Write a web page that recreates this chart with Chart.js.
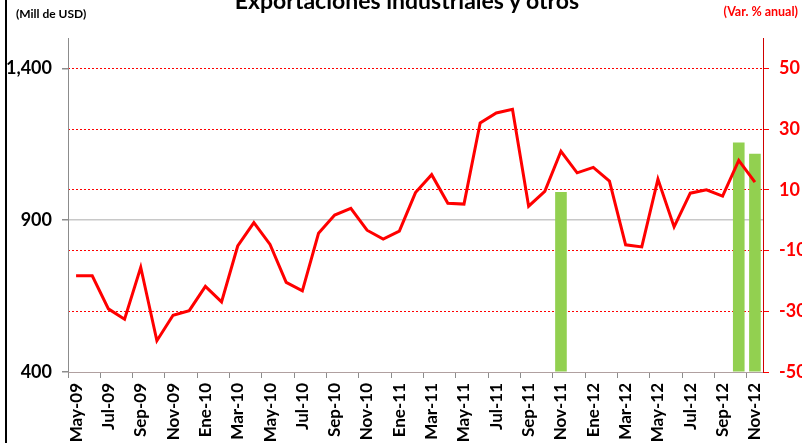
<!DOCTYPE html>
<html>
<head>
<meta charset="utf-8">
<script src="https://cdn.jsdelivr.net/npm/chart.js@4.4.1/dist/chart.umd.min.js"></script>
<style>
  html, body { margin: 0; padding: 0; background: #ffffff; }
  #wrap { position: relative; width: 802px; height: 443px; overflow: hidden; background: #ffffff; }
  canvas { position: absolute; left: 0; top: 0; }
  .txt { position: absolute; font-family: Lato, "Open Sans", sans-serif; font-weight: bold; white-space: nowrap; }
  #title { left: 0; width: 814px; text-align: center; top: -11px; font-size: 23px; line-height: 23px; color: #000; }
  #unitL { left: 16px; top: 8px; font-size: 12px; line-height: 12px; color: #000; }
  #unitR { right: 4px; top: 6px; font-size: 12.5px; line-height: 12.5px; color: #ff0000; }
  #frame { position: absolute; left: 5px; top: 0; width: 2px; height: 443px; background: #000; }
</style>
</head>
<body>
<div id="wrap">
  <canvas id="c" width="802" height="443"></canvas>
  <div id="frame"></div>
  <div class="txt" id="title">Exportaciones industriales y otros</div>
  <div class="txt" id="unitL">(Mill de USD)</div>
  <div class="txt" id="unitR">(Var. % anual)</div>
</div>
<script>
// ---- data ----
const categories = [
  'May-09','Jun-09','Jul-09','Ago-09','Sep-09','Oct-09','Nov-09','Dic-09',
  'Ene-10','Feb-10','Mar-10','Abr-10','May-10','Jun-10','Jul-10','Ago-10','Sep-10','Oct-10','Nov-10','Dic-10',
  'Ene-11','Feb-11','Mar-11','Abr-11','May-11','Jun-11','Jul-11','Ago-11','Sep-11','Oct-11','Nov-11','Dic-11',
  'Ene-12','Feb-12','Mar-12','Abr-12','May-12','Jun-12','Jul-12','Ago-12','Sep-12','Oct-12','Nov-12'
];
const exportsMillUSD = [
  717, 717, 608, 574, 745, 503, 587, 602,
  682, 631, 815, 892, 820, 695, 667, 857, 917, 939, 867, 838,
  864, 991, 1050, 956, 953, 1220, 1253, 1265, 946, 995, 1127, 1056,
  1074, 1029, 819, 812, 1035, 878, 989, 1000, 979, 1097, 1025
];
const varPctAnual = [
  null, null, null, null, null, null, null, null,
  null, null, null, null, null, null, null, null, null, null, null, null,
  null, null, null, null, null, null, null, null, null, null, 9.3, null,
  null, null, null, null, null, null, null, null, null, 25.6, 21.9
];
const leftTicks = [400, 900, 1400];
const rightTicks = [-50, -30, -10, 10, 30, 50];

const FONT = 'Lato, "Open Sans", sans-serif';

new Chart(document.getElementById('c'), {
  data: {
    labels: categories,
    datasets: [
      {
        type: 'line',
        data: exportsMillUSD,
        yAxisID: 'yL',
        borderColor: '#ff0000',
        borderWidth: 3,
        pointRadius: 0,
        tension: 0,
        fill: false,
        order: 0
      },
      {
        type: 'bar',
        data: varPctAnual,
        yAxisID: 'yR',
        base: -50,
        backgroundColor: '#92d050',
        borderWidth: 0,
        barPercentage: 0.72,
        categoryPercentage: 1,
        order: 1
      }
    ]
  },
  options: {
    responsive: false,
    animation: false,
    devicePixelRatio: 1,
    layout: { padding: { top: 38, left: 0, right: 0, bottom: 0 } },
    plugins: { legend: { display: false }, tooltip: { enabled: false }, title: { display: false } },
    scales: {
      x: {
        type: 'category',
        offset: true,
        grid: {
          offset: true,
          drawOnChartArea: false,
          drawTicks: true,
          tickLength: 6,
          color: (ctx) => (ctx.index % 2 === 0 ? '#8c8c8c' : 'rgba(0,0,0,0)'),
          tickColor: (ctx) => (ctx.index % 2 === 0 ? '#8c8c8c' : 'rgba(0,0,0,0)')
        },
        border: { display: true, color: '#b0a0a0', width: 1 },
        ticks: {
          autoSkip: false,
          maxRotation: 90,
          minRotation: 90,
          padding: 5,
          color: '#000',
          font: { family: FONT, size: 17, weight: 'bold' },
          callback: function (v, i) { return i % 2 === 0 ? categories[i] : ''; }
        },
        afterFit: (s) => { s.height = 71; }
      },
      yL: {
        type: 'linear',
        position: 'left',
        min: 400,
        max: 1500,
        afterBuildTicks: (s) => { s.ticks = leftTicks.map(v => ({ value: v })); },
        grid: {
          drawOnChartArea: true,
          drawTicks: true,
          tickLength: 6,
          color: (ctx) => (ctx.tick && ctx.tick.value === 900 ? '#c8c8c8' : 'rgba(0,0,0,0)'),
          tickColor: '#8c8c8c',
          lineWidth: 1.5
        },
        border: { display: true, color: '#8c8c8c', width: 1 },
        ticks: {
          padding: 10,
          color: '#000',
          font: { family: FONT, size: 18, weight: 'bold' },
          callback: (v) => v.toLocaleString('en-US')
        },
        afterFit: (s) => { s.width = 68; }
      },
      yR: {
        type: 'linear',
        position: 'right',
        min: -50,
        max: 60,
        afterBuildTicks: (s) => { s.ticks = rightTicks.map(v => ({ value: v })); },
        grid: {
          drawOnChartArea: true,
          drawTicks: true,
          tickLength: 6,
          color: (ctx) => (ctx.tick && ctx.tick.value === -50 ? 'rgba(0,0,0,0)' : '#ff0000'),
          tickColor: '#ff0000',
          lineWidth: 1
        },
        border: { display: true, color: '#d00000', width: 1, dash: [2, 2] },
        ticks: {
          padding: 10,
          color: '#ff0000',
          font: { family: FONT, size: 18, weight: 'bold' }
        },
        afterFit: (s) => { s.width = 39; }
      }
    }
  }
});
</script>
</body>
</html>
